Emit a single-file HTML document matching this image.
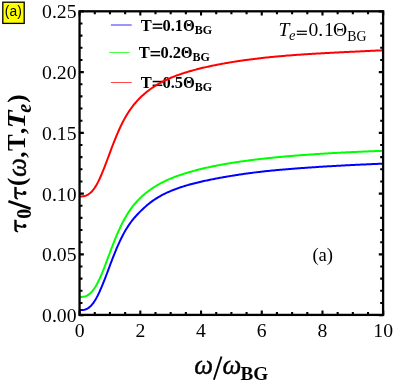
<!DOCTYPE html>
<html><head><meta charset="utf-8"><style>
html,body{margin:0;padding:0;background:#fff;}
body{width:393px;height:383px;overflow:hidden;position:relative;}
svg{position:absolute;left:0;top:0;will-change:transform;}
text{font-family:"Liberation Serif",serif;fill:#000;}
.tk{font-size:19.7px;}
.lg{font-size:16.5px;font-weight:bold;}
.sans{font-family:"Liberation Sans",sans-serif;}
</style></head><body>
<svg width="393" height="383" viewBox="0 0 393 383">
<rect x="0" y="0" width="393" height="383" fill="#fff"/>
<!-- legend -->
<line x1="110.9" y1="25" x2="131.7" y2="25" stroke="#3030ff" stroke-width="1"/>
<line x1="109.1" y1="52.5" x2="129.6" y2="52.5" stroke="#48ff48" stroke-width="1"/>
<line x1="110.9" y1="82.5" x2="131.7" y2="82.5" stroke="#ff4848" stroke-width="1"/>
<g transform="translate(140.80,30.80) scale(1,1.070)" class="lg"><text x="0" y="0">T</text><rect x="11.85" y="-6.73" width="9.6" height="1.40" fill="#000"/><rect x="11.85" y="-3.22" width="9.6" height="1.40" fill="#000"/><text x="21.7" y="0">0.1</text><text transform="translate(42.1,0) scale(0.92,1)" x="0" y="0">Θ</text><text x="53.9" y="2.62" font-size="12">BG</text></g><g transform="translate(138.70,58.20) scale(1,1.070)" class="lg"><text x="0" y="0">T</text><rect x="11.85" y="-6.73" width="9.6" height="1.40" fill="#000"/><rect x="11.85" y="-3.22" width="9.6" height="1.40" fill="#000"/><text x="21.7" y="0">0.2</text><text transform="translate(42.1,0) scale(0.92,1)" x="0" y="0">Θ</text><text x="53.9" y="2.62" font-size="12">BG</text></g><g transform="translate(140.80,88.00) scale(1,1.070)" class="lg"><text x="0" y="0">T</text><rect x="11.85" y="-6.73" width="9.6" height="1.40" fill="#000"/><rect x="11.85" y="-3.22" width="9.6" height="1.40" fill="#000"/><text x="21.7" y="0">0.5</text><text transform="translate(42.1,0) scale(0.92,1)" x="0" y="0">Θ</text><text x="53.9" y="2.62" font-size="12">BG</text></g>
<clipPath id="cp"><rect x="79.55" y="11.30" width="303.55" height="303.60"/></clipPath>
<g clip-path="url(#cp)" fill="none" stroke-width="2.0" stroke-linecap="butt" stroke-linejoin="round">
<path d="M79.40 310.02 L80.41 310.04 L81.42 310.04 L82.44 309.99 L83.45 309.89 L84.46 309.71 L85.47 309.43 L86.49 309.04 L87.50 308.53 L88.51 307.89 L89.52 307.11 L90.54 306.19 L91.55 305.13 L92.56 303.92 L93.57 302.57 L94.59 301.06 L95.60 299.41 L96.61 297.63 L97.62 295.70 L98.63 293.66 L99.65 291.49 L100.66 289.21 L101.67 286.84 L102.68 284.39 L103.70 281.87 L104.71 279.28 L105.72 276.65 L106.73 273.98 L107.75 271.29 L108.76 268.59 L109.77 265.89 L110.78 263.20 L111.79 260.54 L112.81 257.91 L113.82 255.33 L114.83 252.80 L115.84 250.33 L116.86 247.92 L117.87 245.59 L118.88 243.32 L119.89 241.13 L120.91 239.01 L121.92 236.98 L122.93 235.01 L123.94 233.13 L124.96 231.33 L125.97 229.60 L126.98 227.94 L127.99 226.35 L129.00 224.84 L130.02 223.39 L131.03 222.00 L132.04 220.68 L133.05 219.40 L134.07 218.18 L135.08 217.01 L136.09 215.87 L137.10 214.77 L138.12 213.70 L139.13 212.66 L140.14 211.65 L141.15 210.65 L142.16 209.67 L143.18 208.72 L144.19 207.78 L145.20 206.87 L146.21 205.97 L147.23 205.11 L148.24 204.26 L149.25 203.44 L150.26 202.65 L151.28 201.89 L152.29 201.15 L153.30 200.44 L154.31 199.74 L155.33 199.08 L156.34 198.43 L157.35 197.80 L158.36 197.19 L159.37 196.60 L160.39 196.03 L161.40 195.48 L162.41 194.94 L163.42 194.41 L164.44 193.90 L165.45 193.41 L166.46 192.93 L167.47 192.46 L168.49 192.00 L169.50 191.56 L170.51 191.12 L171.52 190.70 L172.53 190.29 L173.55 189.89 L174.56 189.49 L175.57 189.11 L176.58 188.73 L177.60 188.37 L178.61 188.01 L179.62 187.66 L180.63 187.32 L181.65 186.98 L182.66 186.65 L183.67 186.33 L184.68 186.02 L185.70 185.71 L186.71 185.41 L187.72 185.12 L188.73 184.83 L189.74 184.55 L190.76 184.27 L191.77 184.00 L192.78 183.73 L193.79 183.47 L194.81 183.21 L195.82 182.95 L196.83 182.71 L197.84 182.46 L198.86 182.22 L199.87 181.98 L200.88 181.75 L201.89 181.52 L202.90 181.29 L203.92 181.07 L204.93 180.85 L205.94 180.63 L206.95 180.41 L207.97 180.20 L208.98 179.99 L209.99 179.78 L211.00 179.58 L212.02 179.38 L213.03 179.18 L214.04 178.98 L215.05 178.78 L216.07 178.59 L217.08 178.39 L218.09 178.20 L219.10 178.01 L220.11 177.83 L221.13 177.64 L222.14 177.46 L223.15 177.28 L224.16 177.10 L225.18 176.92 L226.19 176.74 L227.20 176.57 L228.21 176.39 L229.23 176.22 L230.24 176.05 L231.25 175.88 L232.26 175.72 L233.27 175.55 L234.29 175.39 L235.30 175.23 L236.31 175.07 L237.32 174.91 L238.34 174.76 L239.35 174.60 L240.36 174.45 L241.37 174.30 L242.39 174.15 L243.40 174.00 L244.41 173.86 L245.42 173.71 L246.44 173.57 L247.45 173.43 L248.46 173.29 L249.47 173.16 L250.48 173.02 L251.50 172.89 L252.51 172.76 L253.52 172.63 L254.53 172.51 L255.55 172.38 L256.56 172.26 L257.57 172.13 L258.58 172.01 L259.60 171.90 L260.61 171.78 L261.62 171.66 L262.63 171.55 L263.64 171.44 L264.66 171.33 L265.67 171.22 L266.68 171.11 L267.69 171.00 L268.71 170.90 L269.72 170.79 L270.73 170.69 L271.74 170.59 L272.76 170.49 L273.77 170.39 L274.78 170.29 L275.79 170.20 L276.81 170.10 L277.82 170.01 L278.83 169.92 L279.84 169.82 L280.85 169.73 L281.87 169.64 L282.88 169.56 L283.89 169.47 L284.90 169.38 L285.92 169.30 L286.93 169.21 L287.94 169.13 L288.95 169.04 L289.97 168.96 L290.98 168.88 L291.99 168.80 L293.00 168.72 L294.01 168.64 L295.03 168.56 L296.04 168.49 L297.05 168.41 L298.06 168.33 L299.08 168.26 L300.09 168.18 L301.10 168.11 L302.11 168.03 L303.13 167.96 L304.14 167.89 L305.15 167.82 L306.16 167.75 L307.18 167.67 L308.19 167.60 L309.20 167.53 L310.21 167.47 L311.22 167.40 L312.24 167.33 L313.25 167.26 L314.26 167.19 L315.27 167.13 L316.29 167.06 L317.30 167.00 L318.31 166.93 L319.32 166.87 L320.34 166.80 L321.35 166.74 L322.36 166.68 L323.37 166.62 L324.38 166.55 L325.40 166.49 L326.41 166.43 L327.42 166.37 L328.43 166.31 L329.45 166.25 L330.46 166.19 L331.47 166.13 L332.48 166.08 L333.50 166.02 L334.51 165.96 L335.52 165.90 L336.53 165.85 L337.55 165.79 L338.56 165.74 L339.57 165.68 L340.58 165.63 L341.59 165.57 L342.61 165.52 L343.62 165.46 L344.63 165.41 L345.64 165.36 L346.66 165.31 L347.67 165.25 L348.68 165.20 L349.69 165.15 L350.71 165.10 L351.72 165.05 L352.73 165.00 L353.74 164.95 L354.75 164.90 L355.77 164.85 L356.78 164.81 L357.79 164.76 L358.80 164.71 L359.82 164.66 L360.83 164.62 L361.84 164.57 L362.85 164.52 L363.87 164.48 L364.88 164.43 L365.89 164.39 L366.90 164.34 L367.92 164.30 L368.93 164.25 L369.94 164.21 L370.95 164.16 L371.96 164.12 L372.98 164.08 L373.99 164.04 L375.00 163.99 L376.01 163.95 L377.03 163.91 L378.04 163.87 L379.05 163.83 L380.06 163.79 L381.08 163.75 L382.09 163.71 L383.10 163.67" stroke="#0000ff"/>
<path d="M79.40 296.97 L80.41 296.96 L81.42 296.93 L82.44 296.86 L83.45 296.74 L84.46 296.54 L85.47 296.24 L86.49 295.84 L87.50 295.32 L88.51 294.68 L89.52 293.92 L90.54 293.01 L91.55 291.98 L92.56 290.80 L93.57 289.47 L94.59 288.01 L95.60 286.41 L96.61 284.67 L97.62 282.79 L98.63 280.79 L99.65 278.66 L100.66 276.42 L101.67 274.07 L102.68 271.62 L103.70 269.09 L104.71 266.50 L105.72 263.85 L106.73 261.16 L107.75 258.45 L108.76 255.73 L109.77 253.01 L110.78 250.30 L111.79 247.63 L112.81 244.99 L113.82 242.39 L114.83 239.85 L115.84 237.37 L116.86 234.95 L117.87 232.60 L118.88 230.32 L119.89 228.12 L120.91 225.99 L121.92 223.93 L122.93 221.95 L123.94 220.04 L124.96 218.20 L125.97 216.44 L126.98 214.75 L127.99 213.13 L129.00 211.57 L130.02 210.08 L131.03 208.65 L132.04 207.28 L133.05 205.96 L134.07 204.70 L135.08 203.49 L136.09 202.33 L137.10 201.21 L138.12 200.13 L139.13 199.10 L140.14 198.09 L141.15 197.13 L142.16 196.19 L143.18 195.29 L144.19 194.41 L145.20 193.57 L146.21 192.74 L147.23 191.95 L148.24 191.18 L149.25 190.43 L150.26 189.70 L151.28 188.99 L152.29 188.31 L153.30 187.64 L154.31 186.99 L155.33 186.36 L156.34 185.75 L157.35 185.15 L158.36 184.57 L159.37 184.00 L160.39 183.45 L161.40 182.91 L162.41 182.38 L163.42 181.87 L164.44 181.38 L165.45 180.89 L166.46 180.42 L167.47 179.96 L168.49 179.51 L169.50 179.07 L170.51 178.65 L171.52 178.23 L172.53 177.82 L173.55 177.42 L174.56 177.04 L175.57 176.65 L176.58 176.28 L177.60 175.92 L178.61 175.56 L179.62 175.21 L180.63 174.86 L181.65 174.52 L182.66 174.19 L183.67 173.86 L184.68 173.54 L185.70 173.23 L186.71 172.92 L187.72 172.61 L188.73 172.31 L189.74 172.02 L190.76 171.73 L191.77 171.44 L192.78 171.16 L193.79 170.88 L194.81 170.61 L195.82 170.34 L196.83 170.07 L197.84 169.81 L198.86 169.56 L199.87 169.30 L200.88 169.05 L201.89 168.80 L202.90 168.56 L203.92 168.32 L204.93 168.08 L205.94 167.85 L206.95 167.62 L207.97 167.40 L208.98 167.17 L209.99 166.95 L211.00 166.74 L212.02 166.52 L213.03 166.31 L214.04 166.10 L215.05 165.90 L216.07 165.70 L217.08 165.50 L218.09 165.30 L219.10 165.11 L220.11 164.92 L221.13 164.73 L222.14 164.54 L223.15 164.36 L224.16 164.18 L225.18 164.00 L226.19 163.83 L227.20 163.65 L228.21 163.48 L229.23 163.31 L230.24 163.15 L231.25 162.98 L232.26 162.82 L233.27 162.66 L234.29 162.50 L235.30 162.35 L236.31 162.19 L237.32 162.04 L238.34 161.89 L239.35 161.74 L240.36 161.60 L241.37 161.45 L242.39 161.31 L243.40 161.17 L244.41 161.03 L245.42 160.89 L246.44 160.75 L247.45 160.62 L248.46 160.48 L249.47 160.35 L250.48 160.22 L251.50 160.09 L252.51 159.96 L253.52 159.84 L254.53 159.71 L255.55 159.59 L256.56 159.47 L257.57 159.35 L258.58 159.23 L259.60 159.11 L260.61 158.99 L261.62 158.87 L262.63 158.76 L263.64 158.65 L264.66 158.53 L265.67 158.42 L266.68 158.31 L267.69 158.20 L268.71 158.10 L269.72 157.99 L270.73 157.89 L271.74 157.78 L272.76 157.68 L273.77 157.58 L274.78 157.47 L275.79 157.37 L276.81 157.28 L277.82 157.18 L278.83 157.08 L279.84 156.99 L280.85 156.89 L281.87 156.80 L282.88 156.70 L283.89 156.61 L284.90 156.52 L285.92 156.43 L286.93 156.34 L287.94 156.25 L288.95 156.17 L289.97 156.08 L290.98 155.99 L291.99 155.91 L293.00 155.82 L294.01 155.74 L295.03 155.66 L296.04 155.58 L297.05 155.50 L298.06 155.42 L299.08 155.34 L300.09 155.26 L301.10 155.18 L302.11 155.11 L303.13 155.03 L304.14 154.95 L305.15 154.88 L306.16 154.81 L307.18 154.73 L308.19 154.66 L309.20 154.59 L310.21 154.52 L311.22 154.45 L312.24 154.38 L313.25 154.31 L314.26 154.24 L315.27 154.17 L316.29 154.11 L317.30 154.04 L318.31 153.97 L319.32 153.91 L320.34 153.84 L321.35 153.78 L322.36 153.72 L323.37 153.65 L324.38 153.59 L325.40 153.53 L326.41 153.47 L327.42 153.41 L328.43 153.35 L329.45 153.29 L330.46 153.23 L331.47 153.17 L332.48 153.12 L333.50 153.06 L334.51 153.00 L335.52 152.95 L336.53 152.89 L337.55 152.84 L338.56 152.78 L339.57 152.73 L340.58 152.68 L341.59 152.62 L342.61 152.57 L343.62 152.52 L344.63 152.47 L345.64 152.42 L346.66 152.37 L347.67 152.32 L348.68 152.27 L349.69 152.22 L350.71 152.17 L351.72 152.12 L352.73 152.07 L353.74 152.02 L354.75 151.98 L355.77 151.93 L356.78 151.89 L357.79 151.84 L358.80 151.79 L359.82 151.75 L360.83 151.71 L361.84 151.66 L362.85 151.62 L363.87 151.57 L364.88 151.53 L365.89 151.49 L366.90 151.45 L367.92 151.41 L368.93 151.36 L369.94 151.32 L370.95 151.28 L371.96 151.24 L372.98 151.20 L373.99 151.16 L375.00 151.12 L376.01 151.08 L377.03 151.05 L378.04 151.01 L379.05 150.97 L380.06 150.93 L381.08 150.89 L382.09 150.86 L383.10 150.82" stroke="#00ff00"/>
<path d="M79.40 196.42 L80.41 196.43 L81.42 196.41 L82.44 196.34 L83.45 196.23 L84.46 196.03 L85.47 195.74 L86.49 195.36 L87.50 194.87 L88.51 194.27 L89.52 193.55 L90.54 192.71 L91.55 191.73 L92.56 190.62 L93.57 189.37 L94.59 187.97 L95.60 186.42 L96.61 184.72 L97.62 182.87 L98.63 180.89 L99.65 178.77 L100.66 176.53 L101.67 174.18 L102.68 171.73 L103.70 169.19 L104.71 166.59 L105.72 163.93 L106.73 161.24 L107.75 158.52 L108.76 155.79 L109.77 153.06 L110.78 150.34 L111.79 147.65 L112.81 145.00 L113.82 142.39 L114.83 139.84 L115.84 137.34 L116.86 134.90 L117.87 132.53 L118.88 130.24 L119.89 128.01 L120.91 125.87 L121.92 123.80 L122.93 121.80 L123.94 119.88 L124.96 118.04 L125.97 116.27 L126.98 114.57 L127.99 112.95 L129.00 111.38 L130.02 109.89 L131.03 108.45 L132.04 107.07 L133.05 105.75 L134.07 104.48 L135.08 103.25 L136.09 102.08 L137.10 100.95 L138.12 99.85 L139.13 98.80 L140.14 97.78 L141.15 96.80 L142.16 95.85 L143.18 94.92 L144.19 94.03 L145.20 93.16 L146.21 92.33 L147.23 91.51 L148.24 90.72 L149.25 89.96 L150.26 89.21 L151.28 88.49 L152.29 87.79 L153.30 87.11 L154.31 86.45 L155.33 85.80 L156.34 85.18 L157.35 84.57 L158.36 83.98 L159.37 83.40 L160.39 82.84 L161.40 82.29 L162.41 81.76 L163.42 81.24 L164.44 80.73 L165.45 80.24 L166.46 79.76 L167.47 79.29 L168.49 78.84 L169.50 78.39 L170.51 77.96 L171.52 77.53 L172.53 77.12 L173.55 76.72 L174.56 76.32 L175.57 75.93 L176.58 75.55 L177.60 75.18 L178.61 74.82 L179.62 74.47 L180.63 74.12 L181.65 73.78 L182.66 73.44 L183.67 73.11 L184.68 72.79 L185.70 72.48 L186.71 72.17 L187.72 71.86 L188.73 71.56 L189.74 71.27 L190.76 70.98 L191.77 70.69 L192.78 70.41 L193.79 70.14 L194.81 69.87 L195.82 69.60 L196.83 69.33 L197.84 69.07 L198.86 68.82 L199.87 68.56 L200.88 68.31 L201.89 68.07 L202.90 67.83 L203.92 67.59 L204.93 67.35 L205.94 67.12 L206.95 66.89 L207.97 66.66 L208.98 66.44 L209.99 66.22 L211.00 66.00 L212.02 65.79 L213.03 65.58 L214.04 65.37 L215.05 65.16 L216.07 64.96 L217.08 64.76 L218.09 64.56 L219.10 64.36 L220.11 64.17 L221.13 63.98 L222.14 63.79 L223.15 63.61 L224.16 63.42 L225.18 63.24 L226.19 63.06 L227.20 62.89 L228.21 62.71 L229.23 62.54 L230.24 62.37 L231.25 62.20 L232.26 62.04 L233.27 61.87 L234.29 61.71 L235.30 61.55 L236.31 61.40 L237.32 61.24 L238.34 61.09 L239.35 60.94 L240.36 60.79 L241.37 60.64 L242.39 60.50 L243.40 60.35 L244.41 60.21 L245.42 60.07 L246.44 59.93 L247.45 59.80 L248.46 59.66 L249.47 59.53 L250.48 59.40 L251.50 59.27 L252.51 59.14 L253.52 59.01 L254.53 58.89 L255.55 58.76 L256.56 58.64 L257.57 58.52 L258.58 58.40 L259.60 58.29 L260.61 58.17 L261.62 58.06 L262.63 57.94 L263.64 57.83 L264.66 57.72 L265.67 57.61 L266.68 57.51 L267.69 57.40 L268.71 57.30 L269.72 57.19 L270.73 57.09 L271.74 56.99 L272.76 56.89 L273.77 56.79 L274.78 56.70 L275.79 56.60 L276.81 56.51 L277.82 56.41 L278.83 56.32 L279.84 56.23 L280.85 56.14 L281.87 56.05 L282.88 55.96 L283.89 55.88 L284.90 55.79 L285.92 55.71 L286.93 55.62 L287.94 55.54 L288.95 55.46 L289.97 55.38 L290.98 55.30 L291.99 55.22 L293.00 55.15 L294.01 55.07 L295.03 55.00 L296.04 54.92 L297.05 54.85 L298.06 54.78 L299.08 54.71 L300.09 54.64 L301.10 54.57 L302.11 54.50 L303.13 54.43 L304.14 54.36 L305.15 54.30 L306.16 54.23 L307.18 54.16 L308.19 54.10 L309.20 54.04 L310.21 53.97 L311.22 53.91 L312.24 53.85 L313.25 53.79 L314.26 53.73 L315.27 53.67 L316.29 53.61 L317.30 53.55 L318.31 53.49 L319.32 53.43 L320.34 53.38 L321.35 53.32 L322.36 53.26 L323.37 53.21 L324.38 53.15 L325.40 53.10 L326.41 53.04 L327.42 52.99 L328.43 52.94 L329.45 52.88 L330.46 52.83 L331.47 52.78 L332.48 52.73 L333.50 52.67 L334.51 52.62 L335.52 52.57 L336.53 52.52 L337.55 52.47 L338.56 52.42 L339.57 52.37 L340.58 52.32 L341.59 52.27 L342.61 52.22 L343.62 52.17 L344.63 52.12 L345.64 52.07 L346.66 52.02 L347.67 51.97 L348.68 51.92 L349.69 51.87 L350.71 51.82 L351.72 51.77 L352.73 51.72 L353.74 51.67 L354.75 51.63 L355.77 51.58 L356.78 51.53 L357.79 51.48 L358.80 51.43 L359.82 51.38 L360.83 51.33 L361.84 51.28 L362.85 51.23 L363.87 51.18 L364.88 51.14 L365.89 51.09 L366.90 51.04 L367.92 50.99 L368.93 50.94 L369.94 50.89 L370.95 50.85 L371.96 50.80 L372.98 50.75 L373.99 50.70 L375.00 50.66 L376.01 50.61 L377.03 50.56 L378.04 50.52 L379.05 50.47 L380.06 50.42 L381.08 50.38 L382.09 50.33 L383.10 50.29" stroke="#ff0000"/>
</g>
<g stroke="#000" stroke-width="2.10" fill="none"><path d="M79.60 314.90v-4.30M79.60 11.30v4.30"/><path d="M94.78 314.90v-2.90M94.78 11.30v2.90"/><path d="M109.96 314.90v-2.90M109.96 11.30v2.90"/><path d="M125.14 314.90v-2.90M125.14 11.30v2.90"/><path d="M140.32 314.90v-4.30M140.32 11.30v4.30"/><path d="M155.50 314.90v-2.90M155.50 11.30v2.90"/><path d="M170.68 314.90v-2.90M170.68 11.30v2.90"/><path d="M185.86 314.90v-2.90M185.86 11.30v2.90"/><path d="M201.04 314.90v-4.30M201.04 11.30v4.30"/><path d="M216.22 314.90v-2.90M216.22 11.30v2.90"/><path d="M231.40 314.90v-2.90M231.40 11.30v2.90"/><path d="M246.58 314.90v-2.90M246.58 11.30v2.90"/><path d="M261.76 314.90v-4.30M261.76 11.30v4.30"/><path d="M276.94 314.90v-2.90M276.94 11.30v2.90"/><path d="M292.12 314.90v-2.90M292.12 11.30v2.90"/><path d="M307.30 314.90v-2.90M307.30 11.30v2.90"/><path d="M322.48 314.90v-4.30M322.48 11.30v4.30"/><path d="M337.66 314.90v-2.90M337.66 11.30v2.90"/><path d="M352.84 314.90v-2.90M352.84 11.30v2.90"/><path d="M368.02 314.90v-2.90M368.02 11.30v2.90"/><path d="M383.20 314.90v-4.30M383.20 11.30v4.30"/><path d="M79.55 315.10h4.30M383.10 315.10h-4.30"/><path d="M79.55 302.95h2.90M383.10 302.95h-2.90"/><path d="M79.55 290.80h2.90M383.10 290.80h-2.90"/><path d="M79.55 278.65h2.90M383.10 278.65h-2.90"/><path d="M79.55 266.50h2.90M383.10 266.50h-2.90"/><path d="M79.55 254.35h4.30M383.10 254.35h-4.30"/><path d="M79.55 242.20h2.90M383.10 242.20h-2.90"/><path d="M79.55 230.05h2.90M383.10 230.05h-2.90"/><path d="M79.55 217.90h2.90M383.10 217.90h-2.90"/><path d="M79.55 205.75h2.90M383.10 205.75h-2.90"/><path d="M79.55 193.60h4.30M383.10 193.60h-4.30"/><path d="M79.55 181.45h2.90M383.10 181.45h-2.90"/><path d="M79.55 169.30h2.90M383.10 169.30h-2.90"/><path d="M79.55 157.15h2.90M383.10 157.15h-2.90"/><path d="M79.55 145.00h2.90M383.10 145.00h-2.90"/><path d="M79.55 132.85h4.30M383.10 132.85h-4.30"/><path d="M79.55 120.70h2.90M383.10 120.70h-2.90"/><path d="M79.55 108.55h2.90M383.10 108.55h-2.90"/><path d="M79.55 96.40h2.90M383.10 96.40h-2.90"/><path d="M79.55 84.25h2.90M383.10 84.25h-2.90"/><path d="M79.55 72.10h4.30M383.10 72.10h-4.30"/><path d="M79.55 59.95h2.90M383.10 59.95h-2.90"/><path d="M79.55 47.80h2.90M383.10 47.80h-2.90"/><path d="M79.55 35.65h2.90M383.10 35.65h-2.90"/><path d="M79.55 23.50h2.90M383.10 23.50h-2.90"/><path d="M79.55 11.35h4.30M383.10 11.35h-4.30"/></g>
<rect x="79.55" y="11.30" width="303.55" height="303.60" fill="none" stroke="#000" stroke-width="2.30"/>
<text id="yt0" x="76.5" y="322.20" text-anchor="end" class="tk">0.00</text><text id="yt1" x="76.5" y="261.36" text-anchor="end" class="tk">0.05</text><text id="yt2" x="76.5" y="200.52" text-anchor="end" class="tk">0.10</text><text id="yt3" x="76.5" y="139.68" text-anchor="end" class="tk">0.15</text><text id="yt4" x="76.5" y="78.84" text-anchor="end" class="tk">0.20</text><text id="yt5" x="76.5" y="18.00" text-anchor="end" class="tk">0.25</text><text id="xt0" x="79.60" y="337" text-anchor="middle" class="tk">0</text><text id="xt1" x="140.32" y="337" text-anchor="middle" class="tk">2</text><text id="xt2" x="201.04" y="337" text-anchor="middle" class="tk">4</text><text id="xt3" x="261.76" y="337" text-anchor="middle" class="tk">6</text><text id="xt4" x="322.48" y="337" text-anchor="middle" class="tk">8</text><text id="xt5" x="383.20" y="337" text-anchor="middle" class="tk">10</text>
<!-- Te -->
<g id="te" font-size="19.6">
<text x="278.4" y="36.1" font-style="italic">T</text>
<text x="288.9" y="40.1" font-style="italic" font-size="14.6">e</text>
<rect x="296.8" y="30.7" width="10.1" height="1.2" fill="#000"/><rect x="296.8" y="33.7" width="10.1" height="1.2" fill="#000"/>
<text x="308.5" y="36.1">0.<tspan dx="0.7">1</tspan><tspan dx="-0.6">Θ</tspan><tspan font-size="13.8" dy="4.4">BG</tspan></text>
</g>
<text id="ina" x="322.7" y="261.3" font-size="18.6" text-anchor="middle">(a)</text>
<!-- x label -->
<g id="xl" font-size="26.6" font-style="italic" stroke="#000" stroke-width="0.45">
<text x="194.2" y="374.3">ω</text>
<text x="222.6" y="374.3">ω</text>
</g>
<line x1="213.9" y1="379.7" x2="221.5" y2="356.5" stroke="#000" stroke-width="1.9"/>
<text x="240.4" y="380" font-size="19.2" font-weight="bold">BG</text>
<!-- y label -->
<g transform="translate(25.2,232.5) rotate(-90)" font-size="25" font-weight="bold" font-style="italic">
<g transform="translate(0,0)"><path d="M0.1,-7.2 Q0.2,-10.9 3.2,-10.9 L12.9,-10.9 L12.5,-8.5 L3.4,-8.5 Q1.6,-8.5 0.9,-6.9 Z" fill="#000"/><path d="M7.0,-8.8 Q6.5,-5.3 5.2,-2.4" stroke="#000" stroke-width="1.8" fill="none"/><circle cx="6.5" cy="-0.7" r="2.0" fill="#000"/></g>
<text x="13.8" y="5.9" font-size="20" font-style="normal">0</text>
<line x1="23.8" y1="5.4" x2="31.2" y2="-16.8" stroke="#000" stroke-width="2.5"/>
<g transform="translate(32.9,0)"><path d="M0.1,-7.2 Q0.2,-10.9 3.2,-10.9 L12.9,-10.9 L12.5,-8.5 L3.4,-8.5 Q1.6,-8.5 0.9,-6.9 Z" fill="#000"/><path d="M7.0,-8.8 Q6.5,-5.3 5.2,-2.4" stroke="#000" stroke-width="1.8" fill="none"/><circle cx="6.5" cy="-0.7" r="2.0" fill="#000"/></g>
<text x="46.5" y="0" font-style="normal">(</text>
<text x="55.4" y="1.1" font-size="27" font-weight="normal" stroke="#000" stroke-width="0.45">ω</text>
<text x="74.8" y="0" font-style="normal">,</text>
<text x="81.4" y="0" font-style="normal">T</text>
<text x="98.4" y="0" font-style="normal">,</text>
<text transform="translate(104.2,0) scale(1.16,1)" x="0" y="0">T</text>
<text x="119.8" y="5.9" font-size="20">e</text>
<text x="129.8" y="0" font-style="normal">)</text>
</g>
<!-- yellow label -->
<rect x="2.8" y="2.2" width="21.4" height="21.2" fill="#ffff00" stroke="#000" stroke-width="1.3"/>
<text id="ya" x="13.3" y="15.7" class="sans" font-size="13.8" text-anchor="middle">(a)</text>
</svg>
</body></html>
